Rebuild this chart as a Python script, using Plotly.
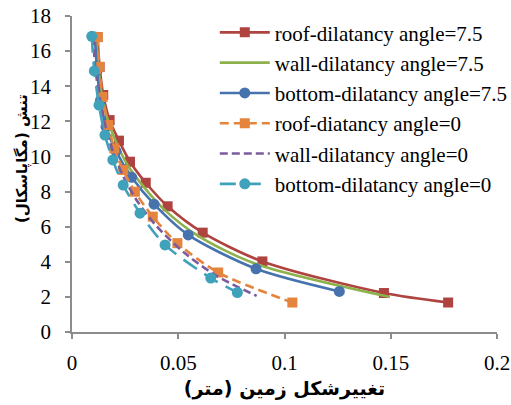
import plotly.graph_objects as go

# Data (deformation in m, stress in MPa)
roof75_x = [0.0120, 0.0130, 0.0147, 0.0177, 0.0221, 0.0273, 0.0347, 0.0450, 0.0615, 0.0896, 0.1468, 0.1770]
roof75_y = [16.8, 15.1, 13.5, 12.07, 10.9, 9.7, 8.5, 7.16, 5.66, 4.02, 2.22, 1.68]

wall75_x = [0.0115, 0.0125, 0.0142, 0.0170, 0.0212, 0.0262, 0.0332, 0.0432, 0.0590, 0.0860, 0.1496]
wall75_y = [16.8, 15.0, 13.4, 12.0, 10.7, 9.5, 8.35, 7.0, 5.5, 3.9, 1.99]

bottom75_x = [0.0108, 0.0118, 0.0134, 0.0160, 0.0207, 0.0281, 0.0386, 0.0547, 0.0866, 0.1258]
bottom75_y = [16.8, 14.9, 13.2, 11.7, 10.3, 8.81, 7.28, 5.53, 3.60, 2.31]

roof0_x = [0.0121, 0.0128, 0.0144, 0.0171, 0.0199, 0.0241, 0.0296, 0.0380, 0.0496, 0.0688, 0.1037]
roof0_y = [16.8, 15.1, 13.39, 11.79, 10.46, 9.23, 7.99, 6.57, 5.06, 3.39, 1.68]

wall0_x = [0.0100, 0.0110, 0.0132, 0.0160, 0.0195, 0.0244, 0.0310, 0.0400, 0.0530, 0.0680, 0.0869]
wall0_y = [16.8, 15.0, 13.2, 11.6, 10.2, 8.8, 7.4, 6.0, 4.5, 3.2, 2.06]

bottom0_x = [0.0093, 0.0105, 0.0127, 0.0155, 0.0192, 0.0241, 0.0320, 0.0438, 0.0653, 0.0778]
bottom0_y = [16.84, 14.87, 12.92, 11.22, 9.80, 8.37, 6.77, 4.96, 3.07, 2.25]

names = ["roof-dilatancy angle=7.5", "wall-dilatancy angle=7.5", "bottom-dilatancy angle=7.5",
         "roof-diatancy angle=0", "wall-dilatancy angle=0", "bottom-dilatancy angle=0"]

x_ticks = [0, 0.05, 0.1, 0.15, 0.2]
x_ticklabels = ["0", "0.05", "0.1", "0.15", "0.2"]
y_ticks = list(range(0, 19, 2))

x_title = "تغییرشکل زمین (متر)"
y_title = "تنش (مگاپاسکال)"

SERIF = "'Liberation Serif', 'Times New Roman', Times, serif"

series = [
    (roof75_x, roof75_y, "#AE433F", "solid", "square", "lines+markers"),
    (wall75_x, wall75_y, "#8DB24C", "solid", "circle", "lines"),
    (bottom75_x, bottom75_y, "#4673AE", "solid", "circle", "lines+markers"),
    (roof0_x, roof0_y, "#E5843D", "9px,5px", "square", "lines+markers"),
    (wall0_x, wall0_y, "#7A5C9E", "8px,4px", "circle", "lines"),
    (bottom0_x, bottom0_y, "#3FA1BA", "16px,9px", "circle", "lines+markers"),
]

fig = go.Figure()
for i, (xs, ys, col, dash, sym, mode) in enumerate(series):
    fig.add_trace(go.Scatter(
        x=xs, y=ys, name=names[i], mode=mode, legendgroup=str(i),
        line=dict(color=col, width=2.6, dash=dash, shape="spline", smoothing=0.8),
        marker=dict(color=col, symbol=sym, size=10 if sym == "square" else 11),
    ))

fig.update_layout(
    width=511, height=405,
    margin=dict(l=72, r=14, t=16, b=73, autoexpand=False),
    paper_bgcolor="white", plot_bgcolor="white",
    font=dict(family=SERIF, size=21, color="black"),
    showlegend=True,
    legend=dict(x=0.336, y=1.012, xanchor="left", yanchor="top",
                bgcolor="rgba(0,0,0,0)", itemwidth=50, tracegroupgap=0,
                traceorder="grouped", maxheight=320,
                font=dict(family=SERIF, size=21)),
    xaxis=dict(range=[0, 0.2], tickvals=x_ticks, ticktext=x_ticklabels,
               showgrid=False, zeroline=False, showline=True, linecolor="#8C8C8C", linewidth=1.5,
               ticks="outside", ticklen=5, tickcolor="#8C8C8C", tickwidth=1.5,
               ticklabelstandoff=6,
               title=dict(text="<b>" + x_title + "</b>", standoff=8,
                          font=dict(family="DejaVu Sans", size=19))),
    yaxis=dict(range=[0, 18], tickvals=y_ticks,
               showgrid=False, zeroline=False, showline=True, linecolor="#8C8C8C", linewidth=1.5,
               ticks="outside", ticklen=5, tickcolor="#8C8C8C", tickwidth=1.5,
               ticklabelstandoff=10),
    annotations=[dict(text="<b>" + y_title + "</b>", textangle=-90, showarrow=False,
                      xref="paper", yref="paper", x=0, y=0.5, xanchor="center", yanchor="middle",
                      xshift=-50, yshift=15,
                      font=dict(family="DejaVu Sans", size=15, color="black"))],
)

fig.write_html("out.html")
